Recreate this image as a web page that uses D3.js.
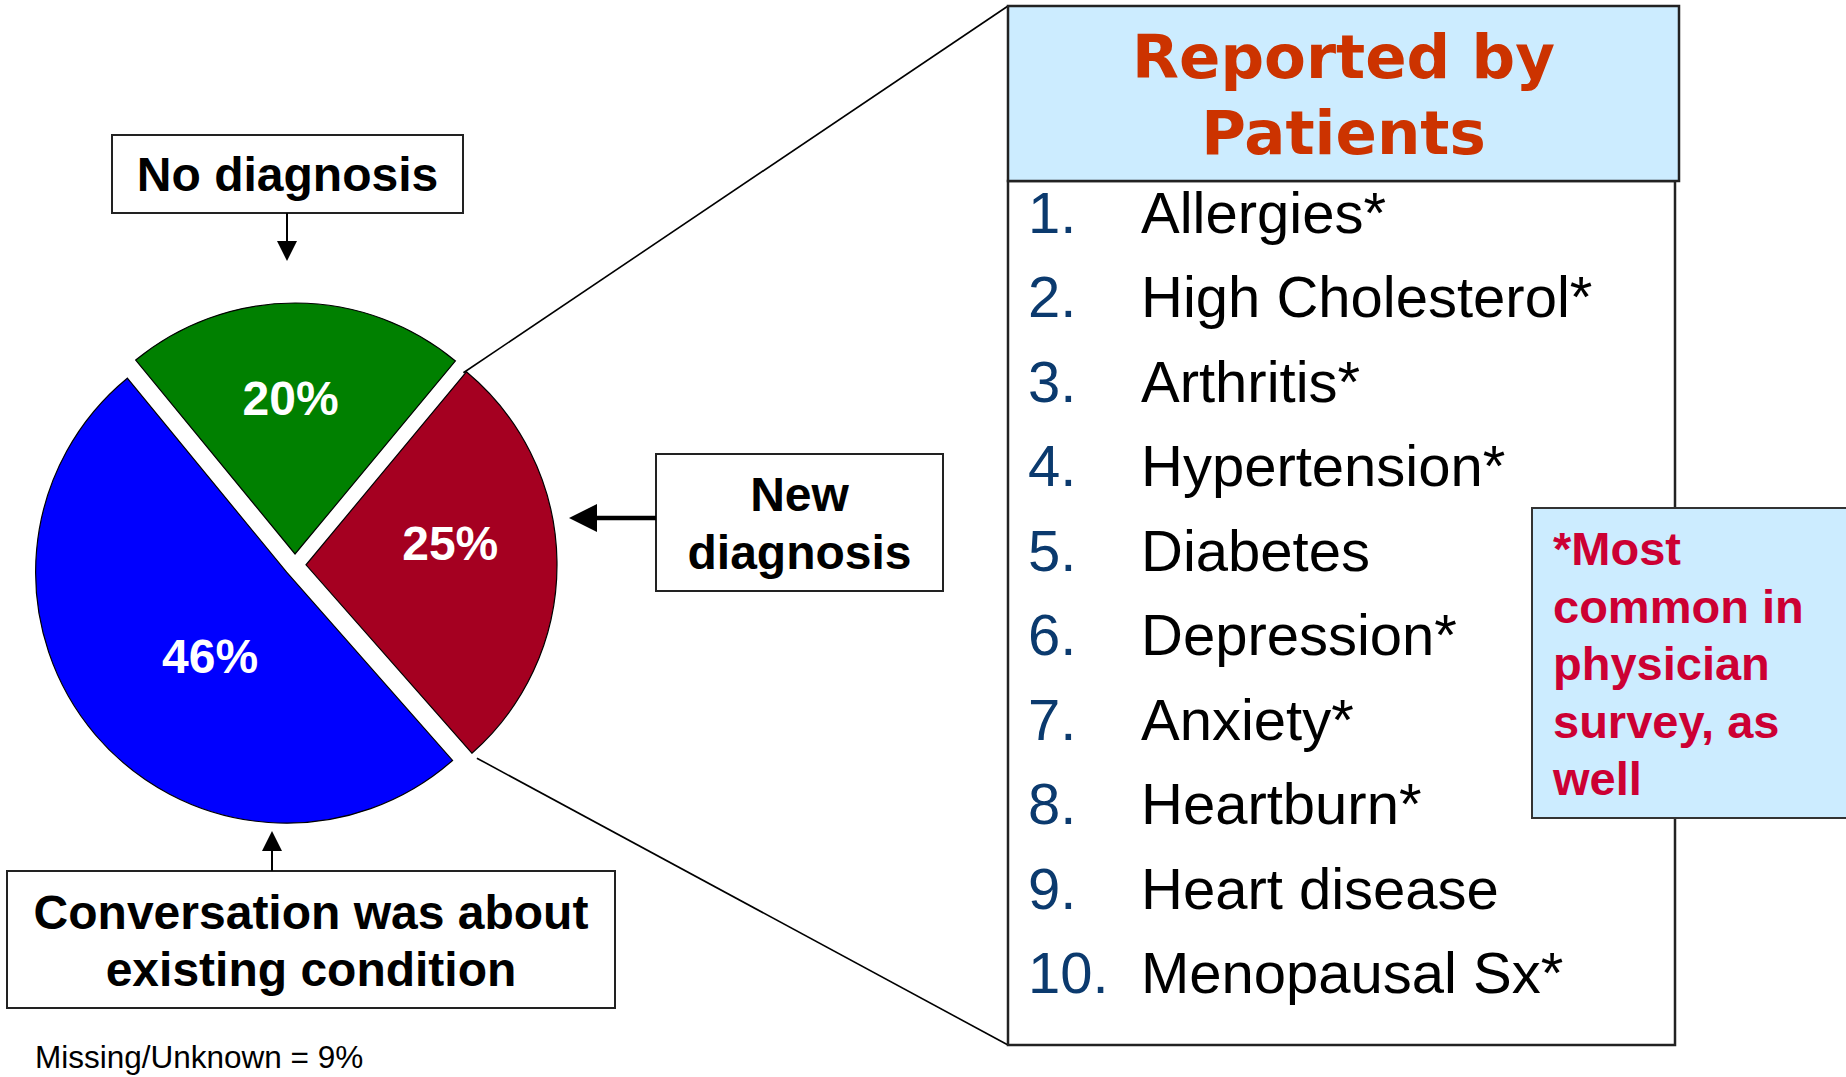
<!DOCTYPE html>
<html>
<head>
<meta charset="utf-8">
<script src="https://cdn.jsdelivr.net/npm/d3@7"></script>
<style>
html,body{margin:0;padding:0;background:#fff;}
svg{display:block;}
</style>
</head>
<body>
<svg id="chart" width="1846" height="1077"></svg>
<script>
// ---------------- data ----------------
const categories = ["No diagnosis", "New diagnosis", "Conversation was about existing condition"];
const calloutLines = [["No diagnosis"], ["New", "diagnosis"], ["Conversation was about", "existing condition"]];
const values = [20, 25, 46];
const missingLabel = "Missing/Unknown";
const missingValue = 9;
const sliceColors = ["#008000", "#A50021", "#0000FF"];
const panelTitle = ["Reported by", "Patients"];
const listRanks = ["1.", "2.", "3.", "4.", "5.", "6.", "7.", "8.", "9.", "10."];
const listItems = ["Allergies*", "High Cholesterol*", "Arthritis*", "Hypertension*", "Diabetes",
                   "Depression*", "Anxiety*", "Heartburn*", "Heart disease", "Menopausal Sx*"];
const noteLines = ["*Most", "common in", "physician", "survey, as", "well"];

// ---------------- drawing ----------------
const svg = d3.select("#chart");
svg.append("rect").attr("width", 1846).attr("height", 1077).attr("fill", "#fff");

const FONT = "'Liberation Sans', Arial, Helvetica, sans-serif";

// Pie
const cx = 295, cy = 565, R = 251, explode = 11;
const startRad = -39.4 * Math.PI / 180;
const pie = d3.pie().sort(null).value(d => d).startAngle(startRad).endAngle(startRad + 2 * Math.PI);
const arcs = pie(values);
arcs.forEach(a => {
  const mid = (a.startAngle + a.endAngle) / 2;
  a.ox = explode * Math.sin(mid);
  a.oy = -explode * Math.cos(mid);
});
const arc = d3.arc().innerRadius(0).outerRadius(R);
const pg = svg.append("g").attr("transform", `translate(${cx},${cy})`);

// leader lines (from red slice corners to the panel)
const red = arcs[1];
const redTop = [cx + red.ox + R * Math.sin(red.startAngle), cy + red.oy - R * Math.cos(red.startAngle)];
const redBot = [cx + red.ox + R * Math.sin(red.endAngle), cy + red.oy - R * Math.cos(red.endAngle)];
const panelX = 1008, headerY = 6, headerH = 175, listBottom = 1045;
svg.append("line").attr("x1", redTop[0] - 3).attr("y1", redTop[1] + 1).attr("x2", panelX).attr("y2", headerY)
  .attr("stroke", "#000").attr("stroke-width", 1.6);
svg.append("line").attr("x1", redBot[0] + 5).attr("y1", redBot[1] + 5).attr("x2", panelX).attr("y2", listBottom)
  .attr("stroke", "#000").attr("stroke-width", 1.6);

pg.selectAll("path.slice").data(arcs).join("path")
  .attr("class", "slice")
  .attr("d", arc)
  .attr("transform", d => `translate(${d.ox},${d.oy})`)
  .attr("fill", (d, i) => sliceColors[i])
  .attr("stroke", "#000").attr("stroke-width", 1.2);

const labelR = [156, 146, 113];
const labelShift = [-1.8, -8, -7];
const pctSize = 48;
pg.selectAll("text.pct").data(arcs).join("text")
  .attr("class", "pct")
  .attr("x", (d, i) => {
    const a = (d.startAngle + d.endAngle) / 2 + labelShift[i] * Math.PI / 180;
    return d.ox + labelR[i] * Math.sin(a);
  })
  .attr("y", (d, i) => {
    const a = (d.startAngle + d.endAngle) / 2 + labelShift[i] * Math.PI / 180;
    return d.oy - labelR[i] * Math.cos(a) + pctSize * 0.36;
  })
  .attr("text-anchor", "middle")
  .attr("font-family", FONT).attr("font-weight", "bold").attr("font-size", pctSize)
  .attr("fill", "#fff")
  .text(d => d.data + "%");

// callout boxes
const boxSize = 48;
function callout(x, y, w, h, lines, baselines) {
  svg.append("rect").attr("x", x).attr("y", y).attr("width", w).attr("height", h)
    .attr("fill", "#fff").attr("stroke", "#222").attr("stroke-width", 2);
  lines.forEach((t, k) => {
    svg.append("text").attr("x", x + w / 2).attr("y", baselines[k])
      .attr("text-anchor", "middle").attr("font-family", FONT).attr("font-weight", "bold")
      .attr("font-size", boxSize).attr("fill", "#000").text(t);
  });
}
callout(112, 135, 351, 78, calloutLines[0], [191]);
callout(656, 454, 287, 137, calloutLines[1], [511, 569]);
callout(7, 871, 608, 137, calloutLines[2], [929, 986]);

// arrows
function arrowV(x, y0, y1, headLen, headHalf, sw) {
  const dir = Math.sign(y1 - y0);
  svg.append("line").attr("x1", x).attr("y1", y0).attr("x2", x).attr("y2", y1 - dir * headLen)
    .attr("stroke", "#000").attr("stroke-width", sw);
  svg.append("path").attr("d", `M${x - headHalf},${y1 - dir * headLen}L${x + headHalf},${y1 - dir * headLen}L${x},${y1}Z`)
    .attr("fill", "#000");
}
function arrowH(y, x0, x1, headLen, headHalf, sw) {
  const dir = Math.sign(x1 - x0);
  svg.append("line").attr("x1", x0).attr("y1", y).attr("x2", x1 - dir * headLen).attr("y2", y)
    .attr("stroke", "#000").attr("stroke-width", sw);
  svg.append("path").attr("d", `M${x1 - dir * headLen},${y - headHalf}L${x1 - dir * headLen},${y + headHalf}L${x1},${y}Z`)
    .attr("fill", "#000");
}
arrowV(287, 213, 261, 20, 10, 2);
arrowV(272, 871, 831, 20, 10, 2);
arrowH(518, 656, 569, 28, 14, 4.5);

// missing note
svg.append("text").attr("x", 35).attr("y", 1068)
  .attr("font-family", FONT).attr("font-size", 31.5).attr("fill", "#000")
  .text(`${missingLabel} = ${missingValue}%`);

// right panel: list box
svg.append("rect").attr("x", panelX).attr("y", headerY + headerH).attr("width", 667).attr("height", listBottom - headerY - headerH)
  .attr("fill", "#fff").attr("stroke", "#222").attr("stroke-width", 2.5);
// header
svg.append("rect").attr("x", panelX).attr("y", headerY).attr("width", 671).attr("height", headerH)
  .attr("fill", "#CCECFF").attr("stroke", "#222").attr("stroke-width", 2.5);
const titleX = panelX + 671 / 2;
svg.append("text").attr("x", titleX).attr("y", 78)
  .attr("text-anchor", "middle").attr("font-family", "'DejaVu Sans', sans-serif").attr("font-weight", "bold")
  .attr("font-size", 61).attr("fill", "#CC3300").text(panelTitle[0]);
svg.append("text").attr("x", titleX).attr("y", 154)
  .attr("text-anchor", "middle").attr("font-family", "'DejaVu Sans', sans-serif").attr("font-weight", "bold")
  .attr("font-size", 61).attr("fill", "#CC3300").text(panelTitle[1]);

const rowY = d3.scaleLinear().domain([0, listItems.length - 1]).range([233, 993]);
const listG = svg.append("g");
listG.selectAll("text.rank").data(listRanks).join("text")
  .attr("class", "rank").attr("x", 1028).attr("y", (d, i) => rowY(i))
  .attr("font-family", FONT).attr("font-size", 58).attr("fill", "#0B3A6E").text(d => d);
listG.selectAll("text.item").data(listItems).join("text")
  .attr("class", "item").attr("x", 1141).attr("y", (d, i) => rowY(i))
  .attr("font-family", FONT).attr("font-size", 58).attr("fill", "#000").text(d => d);

// note box
svg.append("rect").attr("x", 1532).attr("y", 508).attr("width", 330).attr("height", 310)
  .attr("fill", "#CCECFF").attr("stroke", "#333").attr("stroke-width", 2);
const noteY = d3.scaleLinear().domain([0, noteLines.length - 1]).range([565, 795]);
svg.selectAll("text.note").data(noteLines).join("text")
  .attr("class", "note").attr("x", 1553).attr("y", (d, i) => noteY(i))
  .attr("font-family", FONT).attr("font-weight", "bold").attr("font-size", 47)
  .attr("fill", "#CC0033").text(d => d);
</script>
</body>
</html>
